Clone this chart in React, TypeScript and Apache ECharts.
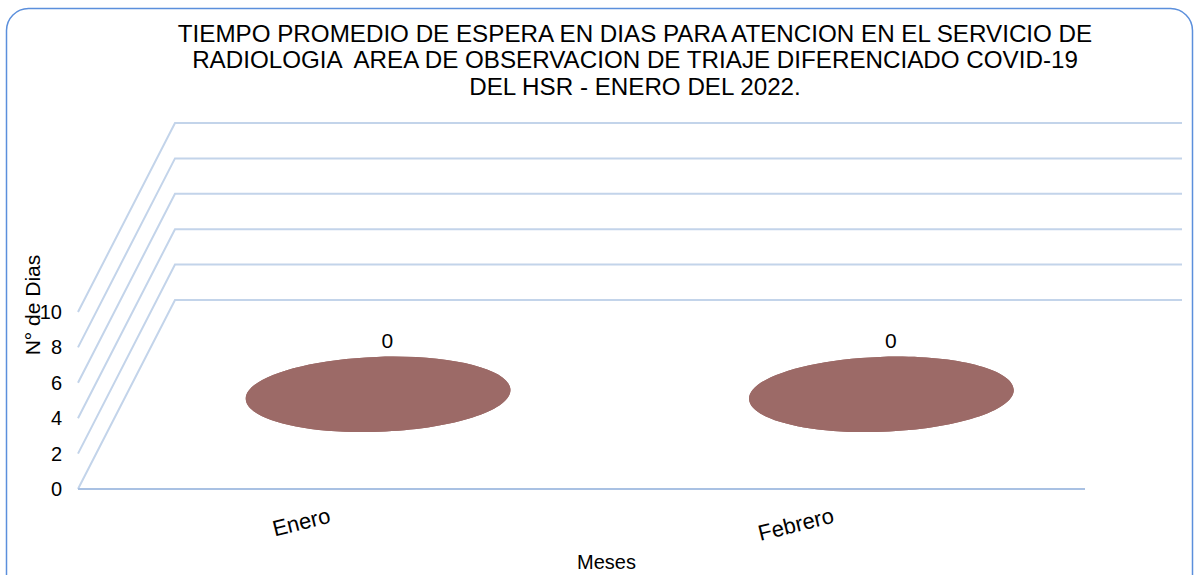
import React, { useEffect, useRef } from "react";
import * as echarts from "echarts";

const TITLE_LINES = [
  "TIEMPO PROMEDIO DE ESPERA EN DIAS PARA ATENCION EN EL SERVICIO DE",
  "RADIOLOGIA  AREA DE OBSERVACION DE TRIAJE DIFERENCIADO COVID-19",
  "DEL HSR - ENERO DEL 2022.",
];
const CATEGORIES = ["Enero", "Febrero"];
const VALUES = [0, 0];
const Y_TICKS = [0, 2, 4, 6, 8, 10];
const Y_NAME = "N° de Dias";
const X_NAME = "Meses";

const DX = 97;
const DY = 189;
const FONT = "'Liberation Sans', Arial, sans-serif";

export default function App() {
  const ref = useRef<HTMLDivElement>(null);
  useEffect(() => {
    document.body.style.margin = "0";
    const chart = echarts.init(ref.current!, null, { renderer: "svg" });
    chart.setOption({
      animation: false,
      backgroundColor: "#ffffff",
      textStyle: { fontFamily: FONT },
      grid: { left: 78, right: 111, top: 312, bottom: 86, outerBoundsMode: "none", containLabel: false },
      xAxis: {
        type: "category",
        data: CATEGORIES,
        name: X_NAME,
        nameLocation: "middle",
        nameGap: 63,
        nameTextStyle: { fontSize: 20, color: "#000", fontFamily: FONT, padding: [0, 0, 0, 50] },
        axisLine: { show: false },
        axisTick: { show: false },
        axisLabel: { rotate: 14, fontSize: 22, color: "#000", margin: 26, fontFamily: FONT },
        splitLine: { show: false },
      },
      yAxis: {
        type: "value",
        min: 0,
        max: 10,
        interval: 2,
        axisLine: { show: false },
        axisTick: { show: false },
        splitLine: { show: false },
        axisLabel: { fontSize: 20, color: "#000", margin: 16, fontFamily: FONT },
      },
      graphic: [
        {
          type: "rect",
          shape: { x: 6.5, y: 8.5, width: 1186, height: 620, r: 22 },
          style: { fill: "none", stroke: "#5b8fdc", lineWidth: 1.5 },
          z: 100,
        },
        {
          type: "text",
          x: 635,
          y: 20,
          style: {
            text: TITLE_LINES.join("\n"),
            font: `24.2px ${FONT}`,
            fill: "#000",
            align: "center",
            verticalAlign: "top",
            lineHeight: 26.5,
          },
        },
        {
          type: "text",
          x: 32,
          y: 305,
          rotation: Math.PI / 2,
          style: {
            text: Y_NAME,
            font: `21px ${FONT}`,
            fill: "#000",
            align: "center",
            verticalAlign: "middle",
          },
        },
      ],
      series: [
        {
          type: "custom",
          data: Y_TICKS.map((v) => [0, v]),
          encode: { x: 0, y: 1 },
          silent: true,
          z: 1,
          renderItem: (params: any, api: any) => {
            const v = api.value(1);
            const cs = params.coordSys;
            const y = api.coord([0, v])[1];
            const x0 = cs.x;
            const w = cs.width;
            const children: any[] = [
              {
                type: "polyline",
                shape: {
                  points: [
                    [x0, y],
                    [x0 + DX, y - DY],
                    [x0 + DX + w, y - DY],
                  ],
                },
                style: { fill: "none", stroke: "#c3d4ea", lineWidth: 2 },
              },
            ];
            if (v === 0) {
              children.push({
                type: "line",
                shape: { x1: x0, y1: y, x2: x0 + w, y2: y },
                style: { stroke: "#a9c1e3", lineWidth: 2 },
              });
            }
            return { type: "group", children };
          },
        },
        {
          type: "custom",
          data: CATEGORIES.map((c, i) => [i, VALUES[i]]),
          encode: { x: 0, y: 1 },
          z: 3,
          renderItem: (params: any, api: any) => {
            const top = api.coord([api.value(0), api.value(1)]);
            const base = api.coord([api.value(0), 0]);
            const cx = top[0] + DX / 2;
            const cyTop = top[1] - DY / 2;
            const cyBase = base[1] - DY / 2;
            const rx = 132.5;
            const ry = 37.5;
            const fill = "#9c6a67";
            return {
              type: "group",
              children: [
                {
                  type: "ellipse",
                  shape: { cx, cy: cyBase, rx, ry },
                  rotation: 0.035,
                  originX: cx,
                  originY: cyBase,
                  style: { fill },
                },
                {
                  type: "rect",
                  shape: { x: cx - rx, y: cyTop, width: rx * 2, height: cyBase - cyTop },
                  style: { fill },
                },
                {
                  type: "ellipse",
                  shape: { cx, cy: cyTop, rx, ry },
                  rotation: 0.035,
                  originX: cx,
                  originY: cyTop,
                  style: { fill },
                },
                {
                  type: "text",
                  x: cx + 9,
                  y: cyTop - 54,
                  style: {
                    text: String(api.value(1)),
                    font: `21px ${FONT}`,
                    fill: "#000",
                    align: "center",
                    verticalAlign: "middle",
                  },
                },
              ],
            };
          },
        },
      ],
    });
    return () => chart.dispose();
  }, []);
  return <div ref={ref} style={{ width: 1196, height: 575 }} />;
}
